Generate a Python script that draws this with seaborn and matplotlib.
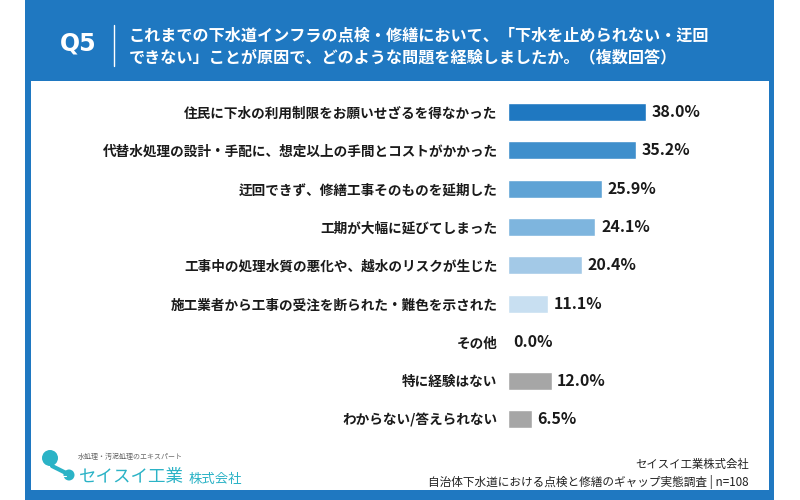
import matplotlib
matplotlib.use("Agg")
import matplotlib.pyplot as plt
import matplotlib.patches as mpatches
import seaborn as sns

# データ
categories = [
    "住民に下水の利用制限をお願いせざるを得なかった",
    "代替水処理の設計・手配に、想定以上の手間とコストがかかった",
    "迂回できず、修繕工事そのものを延期した",
    "工期が大幅に延びてしまった",
    "工事中の処理水質の悪化や、越水のリスクが生じた",
    "施工業者から工事の受注を断られた・難色を示された",
    "その他",
    "特に経験はない",
    "わからない/答えられない",
]
values = [38.0, 35.2, 25.9, 24.1, 20.4, 11.1, 0.0, 12.0, 6.5]
bar_colors = ["#1f78c1", "#3f8fcc", "#5fa3d5", "#7eb5de", "#a3c9e7", "#c8dff1",
              "#c8dff1", "#a6a6a6", "#a6a6a6"]

title_q = "Q5"
title_lines = [
    "これまでの下水道インフラの点検・修繕において、「下水を止められない・迂回",
    "できない」ことが原因で、どのような問題を経験しましたか。（複数回答）",
]
source_lines = ["セイスイ工業株式会社",
                "自治体下水道における点検と修繕のギャップ実態調査 | n=108"]

sns.set_style("white")
plt.rcParams['font.family'] = ['Noto Sans CJK JP', 'DejaVu Sans']

BLUE = "#1f78c1"
TEAL = "#2bb3c6"

fig = plt.figure(figsize=(8, 5), dpi=100)
fig.patch.set_facecolor("white")

# 背景（ピクセル座標で描く）
bg = fig.add_axes([0, 0, 1, 1])
bg.set_xlim(0, 800)
bg.set_ylim(500, 0)
bg.axis("off")
bg.add_patch(mpatches.Rectangle((25, 0), 749, 500, color=BLUE, lw=0))
bg.add_patch(mpatches.Rectangle((31, 81), 738, 409, color="white", lw=0))

# タイトル
bg.text(78, 44, title_q, color="white", fontsize=17, fontweight="bold",
        family="DejaVu Sans", ha="center", va="center")
bg.plot([114, 114], [25, 66], color="white", lw=1)
bg.text(129, 35, title_lines[0], color="white", fontsize=11.6,
        fontweight="bold", ha="left", va="center")
bg.text(129, 57, title_lines[1], color="white", fontsize=11.6,
        fontweight="bold", ha="left", va="center")

# ロゴ
bg.add_patch(mpatches.Circle((50, 458), 8, color=TEAL, lw=0))
bg.add_patch(mpatches.Circle((69, 475), 5.5, color=TEAL, lw=0))
bg.plot([52, 68], [466, 474], color=TEAL, lw=3, solid_capstyle="round")
bg.plot([54, 66], [476, 476], color="white", lw=0.8)
bg.text(78, 457, "水処理・汚泥処理のエキスパート", color="#666666",
        fontsize=5, ha="left", va="center")
bg.text(79, 477, "セイスイ工業", color=TEAL, fontsize=12.6,
        ha="left", va="center")
bg.text(189, 479, "株式会社", color=TEAL, fontsize=9.6,
        ha="left", va="center")

# 出典
bg.text(749, 464, source_lines[0], color="#222222", fontsize=8.2,
        ha="right", va="center")
bg.text(749, 482, source_lines[1], color="#222222", fontsize=8.4,
        ha="right", va="center")

# 棒グラフ
ax = fig.add_axes([508 / 800, 1 - 438.2 / 500, 145.2 / 800, 345.6 / 500])
ax.patch.set_alpha(0)
sns.barplot(x=values, y=categories, hue=categories, palette=bar_colors,
            legend=False, orient="h", width=0.47, saturation=1, ax=ax)
ax.set_xlim(0, 40)
ax.set_ylim(8.5, -0.5)
for c in ax.containers:
    ax.bar_label(c, fmt="%.1f%%", padding=4, fontsize=11.5,
                 fontweight="bold", color="#1a1a1a")
ax.set_xticks([])
ax.tick_params(axis="y", length=0, pad=7.5)
for lbl in ax.get_yticklabels():
    lbl.set_fontsize(9.8)
    lbl.set_fontweight("bold")
    lbl.set_color("#1a1a1a")
ax.set_xlabel("")
ax.set_ylabel("")
sns.despine(ax=ax, left=True, bottom=True)

fig.savefig("out.png", dpi=100)
